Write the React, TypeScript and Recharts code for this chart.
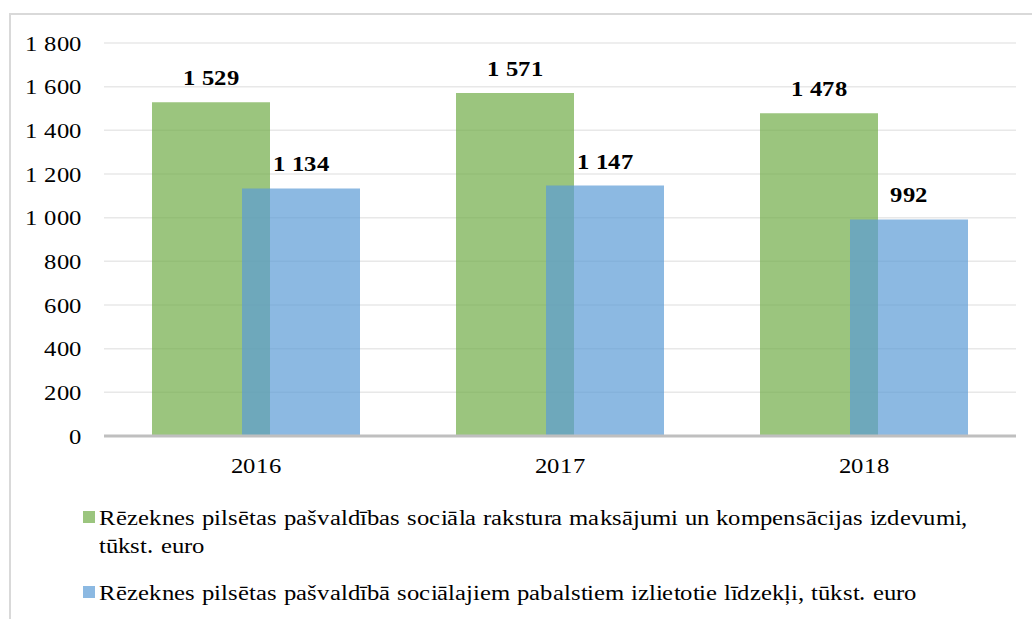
import React from 'react';
import { BarChart, Bar, XAxis, YAxis, CartesianGrid, LabelList } from 'recharts';

const categories = ['2016', '2017', '2018'];
const paymentsValues = [1529, 1571, 1478];
const benefitsValues = [1134, 1147, 992];
const yTicks = [0, 200, 400, 600, 800, 1000, 1200, 1400, 1600, 1800];
const seriesNames = [
  'Rēzeknes pilsētas pašvaldības sociāla rakstura maksājumi un kompensācijas izdevumi, tūkst. euro',
  'Rēzeknes pilsētas pašvaldībā sociālajiem pabalstiem izlietotie līdzekļi, tūkst. euro',
];
const seriesColors = ['#70AD47', '#5B9BD5'];

const data = categories.map((c, i) => ({
  year: c,
  payments: paymentsValues[i],
  benefits: benefitsValues[i],
}));

const FONT = "RSerif, 'Liberation Serif', 'Times New Roman', serif";
const FS = 22;
const SX = 1.12;
const fontCss = `
@font-face { font-family: 'RSerif'; font-weight: 400; src: local('Liberation Serif'), local('LiberationSerif'), local('LiberationSerif-Regular'), local('Times New Roman'); }
@font-face { font-family: 'RSerif'; font-weight: 700; src: local('Liberation Serif Bold'), local('LiberationSerif-Bold'), local('Times New Roman Bold'); }
`;

const fmt = (v: number) => {
  const s = String(Math.round(v));
  return s.replace(/\B(?=(\d{3})+(?!\d))/g, ' ');
};

const YTick = (props: any) => {
  const { x, y, payload } = props;
  return (
    <text
      transform={`translate(${x},${y}) scale(${SX},1)`}
      x={0}
      y={0}
      dy="0.355em"
      textAnchor="end"
      fontFamily={FONT}
      fontSize={FS}
      fill="#000"
    >
      {fmt(payload.value)}
    </text>
  );
};

const XTick = (props: any) => {
  const { x, y, payload } = props;
  return (
    <text
      transform={`translate(${x},${y}) scale(${SX},1)`}
      x={0}
      y={0}
      dy="0.71em"
      textAnchor="middle"
      fontFamily={FONT}
      fontSize={FS}
      fill="#000"
    >
      {payload.value}
    </text>
  );
};

const renderLabel = (props: any) => {
  const { x, y, width, value } = props;
  return (
    <text
      transform={`translate(${x + width / 2},${y - 17}) scale(${SX},1)`}
      x={0}
      y={0}
      textAnchor="middle"
      fontFamily={FONT}
      fontWeight="bold"
      fontSize={FS}
      fill="#000"
    >
      {fmt(value)}
    </text>
  );
};

const legendText: React.CSSProperties = {
  position: 'absolute',
  left: 99,
  width: 800,
  fontFamily: FONT,
  fontSize: FS,
  lineHeight: '28px',
  color: '#000',
  transform: `scaleX(${SX})`,
  transformOrigin: 'left top',
};

export default function App() {
  return (
    <div
      style={{
        position: 'absolute',
        left: 0,
        top: 0,
        width: 1032,
        height: 619,
        overflow: 'hidden',
        background: '#fff',
        fontFamily: FONT,
      }}
    >
      <style>{fontCss}</style>
      <div
        style={{
          position: 'absolute',
          left: 9,
          top: 13,
          width: 1100,
          height: 700,
          border: '2px solid #D9D9D9',
          boxSizing: 'border-box',
        }}
      />
      <div style={{ position: 'absolute', left: 0, top: 0 }}>
        <BarChart
          width={1032}
          height={480}
          data={data}
          margin={{ top: 43, right: 16, left: 24, bottom: 0 }}
          barGap={-28}
          barSize={118}
        >
          <CartesianGrid vertical={false} stroke="#E8E8E8" strokeWidth={1.5} />
          <XAxis
            dataKey="year"
            height={44}
            tickSize={0}
            tickMargin={21}
            axisLine={{ stroke: '#BFBFBF', strokeWidth: 3 }}
            tick={<XTick />}
          />
          <YAxis
            width={80}
            domain={[0, 1800]}
            ticks={yTicks}
            interval={0}
            tickSize={0}
            tickMargin={22}
            axisLine={false}
            tick={<YTick />}
          />
          <Bar dataKey="payments" fill={seriesColors[0]} fillOpacity={0.7} isAnimationActive={false}>
            <LabelList dataKey="payments" content={renderLabel} />
          </Bar>
          <Bar dataKey="benefits" fill={seriesColors[1]} fillOpacity={0.7} isAnimationActive={false}>
            <LabelList dataKey="benefits" content={renderLabel} />
          </Bar>
        </BarChart>
      </div>
      <div style={{ position: 'absolute', left: 83, top: 511, width: 12, height: 12, background: seriesColors[0], opacity: 0.7 }} />
      <div style={{ ...legendText, top: 504 }}>{seriesNames[0]}</div>
      <div style={{ position: 'absolute', left: 83, top: 586, width: 12, height: 12, background: seriesColors[1], opacity: 0.7 }} />
      <div style={{ ...legendText, top: 579, whiteSpace: 'nowrap' }}>{seriesNames[1]}</div>
    </div>
  );
}
